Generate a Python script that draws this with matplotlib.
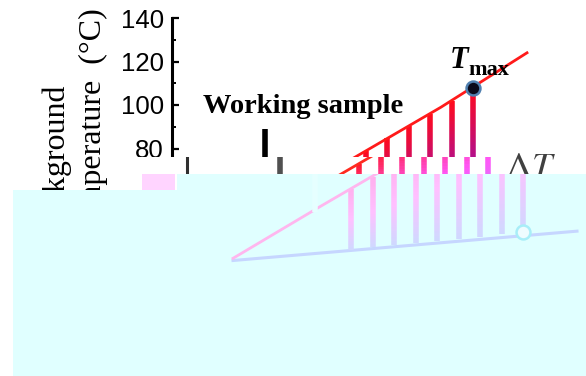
import numpy as np
import matplotlib
matplotlib.use('Agg')
import matplotlib.pyplot as plt
import matplotlib.transforms as mtransforms
from matplotlib.collections import LineCollection
from matplotlib.colors import LinearSegmentedColormap
from matplotlib.patches import Polygon, Rectangle

plt.rcParams['font.family'] = 'Liberation Sans'
plt.rcParams['mathtext.fontset'] = 'stix'

# working sample temperature (deg C) against time step
line_t = [0, 4, 8, 12, 16]
line_T = [29.5, 53, 76, 99, 124]
# background temperature
bg_t = [0, 16]
bg_T = [28.5, 42]
# sampling instants, sample temp (top of bar) and background temp (bottom of bar)
bar_t = [5.5, 6.5, 7.5, 8.5, 9.5, 10.5, 11.5, 12.5, 13.5]
bar_top = [61.5, 67, 73, 79, 85, 90.5, 96, 102, 108]
bar_bot = [33.5, 34.5, 35.5, 36.5, 37.5, 38.5, 39.5, 40.5, 41.5]
# pointer from the "Working sample" label
arrow_t = 3.8
arrow_T = [89, 51]
yticks = [80, 100, 120, 140]
yminor = [70, 90, 110, 130]

W, H = 586, 376
fig = plt.figure(figsize=(W / 100, H / 100), dpi=100)


def fx(px):
    return px / W


def fy(py):
    return 1 - py / H


ax = fig.add_axes([fx(172), fy(279), fx(W - 172), (279 - 18) / H])
for s in ['top', 'right', 'bottom']:
    ax.spines[s].set_visible(False)
ax.spines['left'].set_linewidth(2.2)
ax.set_xticks([])
ax.set_yticks(yticks)
ax.set_yticks(yminor, minor=True)
ax.tick_params(axis='y', which='major', direction='in', length=5, width=1.6,
               pad=6, labelsize=18.5)
ax.tick_params(axis='y', which='minor', direction='in', length=3, width=1.4)
ax.patch.set_visible(False)


def draw_layer(dx, z, clip, line_c, bg_c, cmap, arrow_c, dot_fc, dot_ec):
    tr = ax.transData + mtransforms.ScaledTranslation(dx / 100, 0, fig.dpi_scale_trans)
    arts = []
    arts += ax.plot(bg_t, bg_T, color=bg_c, lw=2.2, transform=tr, zorder=z)
    segs, fr = [], []
    for t, top, bot in zip(bar_t, bar_top, bar_bot):
        ys = np.linspace(top, bot, 41)
        for k in range(40):
            segs.append([(t, ys[k]), (t, ys[k + 1])])
            fr.append(k / 39)
    lc = LineCollection(segs, colors=cmap(np.array(fr)), linewidths=4,
                        capstyle='butt', transform=tr, zorder=z + 0.1)
    ax.add_collection(lc, autolim=False)
    arts.append(lc)
    arts += ax.plot(line_t, line_T, color=line_c, lw=2, transform=tr, zorder=z + 0.2)
    arts += ax.plot([arrow_t, arrow_t], arrow_T, color=arrow_c, lw=4,
                    solid_capstyle='butt', transform=tr, zorder=z + 0.3)
    arts += ax.plot(bar_t[-1], bar_top[-1], 'o', ms=10, mfc=dot_fc, mec=dot_ec,
                    mew=1.8, transform=tr, zorder=z + 0.4)
    arts += ax.plot(bar_t[-1], bar_bot[-1], 'o', ms=10, mfc=dot_fc, mec=dot_ec,
                    mew=1.8, transform=tr, zorder=z + 0.4)
    if clip is not None:
        for a in arts:
            a.set_clip_path(clip)
    return tr


cm_top = LinearSegmentedColormap.from_list('top', ['#ff0a1e', '#b0108f', '#3050d0'])
cm_strip = LinearSegmentedColormap.from_list('strip', ['#ff1a30', '#ff58f8', '#a0a0ff'])
cm_pale = LinearSegmentedColormap.from_list('pale', ['#ffb0ee', '#ffc0ff', '#d0d8ff'])

# main layer
draw_layer(0, 3, None, '#ff1a1a', '#4a70e0', cm_top, 'black', '#0a0a1a', '#5080b0')

# shifted strip
strip = Rectangle((fx(130), fy(174)), fx(W - 130), (174 - 157) / H,
                  transform=fig.transFigure, facecolor='white', edgecolor='none',
                  zorder=5)
ax.add_patch(strip)
strip.set_clip_on(False)
draw_layer(15, 6, strip, '#ff2a20', '#8aa0ff', cm_strip, '#505050',
           '#303040', '#80a0d0')
sp = ax.plot([0, 0], [0, 1], color='#303030', lw=2.2,
             transform=ax.transAxes + mtransforms.ScaledTranslation(0.15, 0, fig.dpi_scale_trans),
             zorder=6.5)[0]
sp.set_clip_path(strip)
dt_clip = Rectangle((fx(480), fy(174)), fx(100), (174 - 148) / H,
                    transform=fig.transFigure, facecolor='none', edgecolor='none')
dt = ax.text(fx(505), fy(151), r'$\Delta T$', transform=fig.transFigure, fontsize=26,
             color='#404040', va='top', ha='left', zorder=6.6)
dt.set_clip_path(dt_clip)

# pale cyan block
cyan = Polygon([(fx(13), fy(376)), (fx(13), fy(190)), (fx(177), fy(190)),
                (fx(177), fy(174)), (fx(W), fy(174)), (fx(W), fy(376))],
               closed=True, transform=fig.transFigure, facecolor='#e0ffff',
               edgecolor='none', zorder=8)
ax.add_patch(cyan)
cyan.set_clip_on(False)
pink = Rectangle((fx(142), fy(190)), fx(33), 16 / H, transform=fig.transFigure,
                 facecolor='#ffd4ff', edgecolor='none', zorder=8.1)
ax.add_patch(pink)
pink.set_clip_on(False)
draw_layer(50, 9, cyan, '#ffb6ee', '#c6d6ff', cm_pale, '#e6ffff', '#eefcff', '#a8eef8')

ax.set_xlim(-11 / 21.5, (W - 183) / 21.5)
ax.set_ylim(20, 140)

# labels
ax.text(fx(75), fy(241), 'Background\nTemperature  (\u00b0C)', transform=fig.transFigure,
        rotation=90, ha='center', va='bottom', multialignment='left',
        family='Liberation Serif', fontsize=23, linespacing=1.35, zorder=2, clip_on=False)
ax.text(fx(203), fy(113), 'Working sample', transform=fig.transFigure,
        family='Liberation Serif', weight='bold', fontsize=20.5, zorder=7, clip_on=False)
ax.text(fx(450), fy(68), 'T', transform=fig.transFigure, family='Liberation Serif',
        weight='bold', style='italic', fontsize=22, zorder=7, clip_on=False)
ax.text(fx(468), fy(75), 'max', transform=fig.transFigure, family='Liberation Serif',
        weight='bold', fontsize=16, zorder=7, clip_on=False)

fig.savefig('out.png', dpi=100)
